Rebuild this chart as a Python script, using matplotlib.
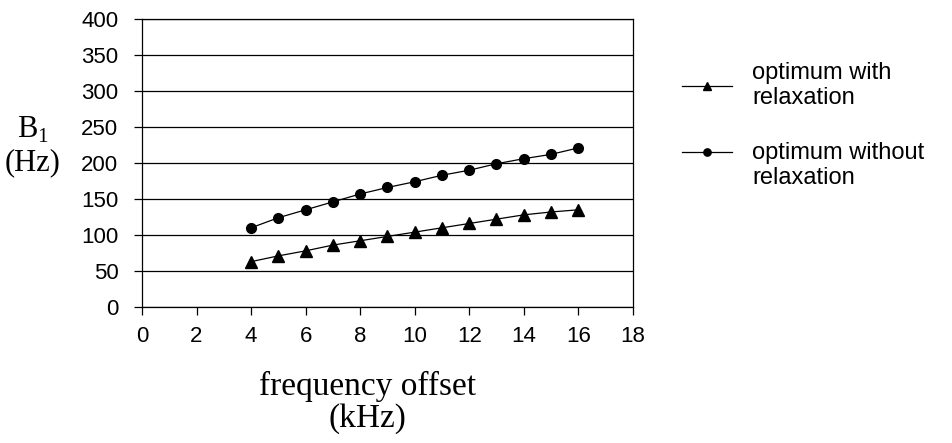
import numpy as np
import matplotlib.pyplot as plt
from matplotlib.legend_handler import HandlerLine2D

# frequency offset (kHz)
freq = [4, 5, 6, 7, 8, 9, 10, 11, 12, 13, 14, 15, 16]
# B1 (Hz)
with_relax = [63, 71, 78, 86, 92, 98, 104, 110, 116, 122, 128, 132, 135]
without_relax = [110, 124, 135, 146, 157, 166, 174, 183, 190, 199, 206, 212, 221]

x_ticks = list(range(0, 19, 2))
y_ticks = list(range(0, 401, 50))

plt.rcParams['mathtext.fontset'] = 'custom'
plt.rcParams['mathtext.rm'] = 'Liberation Serif'


class ShiftedHandler(HandlerLine2D):
    # moves the legend sample up so it sits on the first text line
    def __init__(self, shift=0, **kw):
        super().__init__(**kw)
        self.shift = shift

    def create_artists(self, legend, orig_handle, xdescent, ydescent, width,
                       height, fontsize, trans):
        arts = super().create_artists(legend, orig_handle, xdescent, ydescent,
                                      width, height, fontsize, trans)
        for a in arts:
            a.set_ydata(np.asarray(a.get_ydata()) + self.shift)
        return arts


fig = plt.figure(figsize=(9.53, 4.43), dpi=100)
ax = fig.add_axes([0.149, 0.307, 0.515, 0.650])

l1, = ax.plot(freq, with_relax, color='black', marker='^', markersize=8.5,
              linewidth=0.9, label='optimum with\nrelaxation')
l2, = ax.plot(freq, without_relax, color='black', marker='o', markersize=7,
              linewidth=0.9, label='optimum without\nrelaxation')

ax.set_xlim(0, 18)
ax.set_ylim(0, 400)
ax.set_xticks(x_ticks)
ax.set_yticks(y_ticks)
ax.yaxis.grid(True, color='black', linewidth=0.9)
ax.set_axisbelow(True)
for s in ax.spines.values():
    s.set_linewidth(0.9)
ax.tick_params(direction='out', length=6, width=0.9, labelsize=16)
ax.tick_params(axis='y', pad=11)
ax.tick_params(axis='x', pad=8)
for lab in ax.get_xticklabels() + ax.get_yticklabels():
    lab.set_family('Liberation Sans')

ax.set_xlabel('frequency offset\n(kHz)', family='Liberation Serif', fontsize=24,
              linespacing=1.05, va='top', ha='center')
ax.xaxis.set_label_coords(0.46, -0.222)
ax.set_ylabel('B$_1$\n(Hz)', family='Liberation Serif', fontsize=22,
              rotation=0, linespacing=1.15, va='center', ha='center')
ax.yaxis.set_label_coords(-0.222, 0.56)

fig.legend(handles=[l1, l2], loc='upper left', bbox_to_anchor=(0.716, 0.861),
           frameon=False, prop={'family': 'Liberation Sans', 'size': 17},
           handlelength=2.1, handletextpad=0.85, labelspacing=1.4,
           markerscale=0.75, borderaxespad=0, borderpad=0,
           handler_map={l2: ShiftedHandler(shift=10)})

fig.savefig('out.png', dpi=100)
